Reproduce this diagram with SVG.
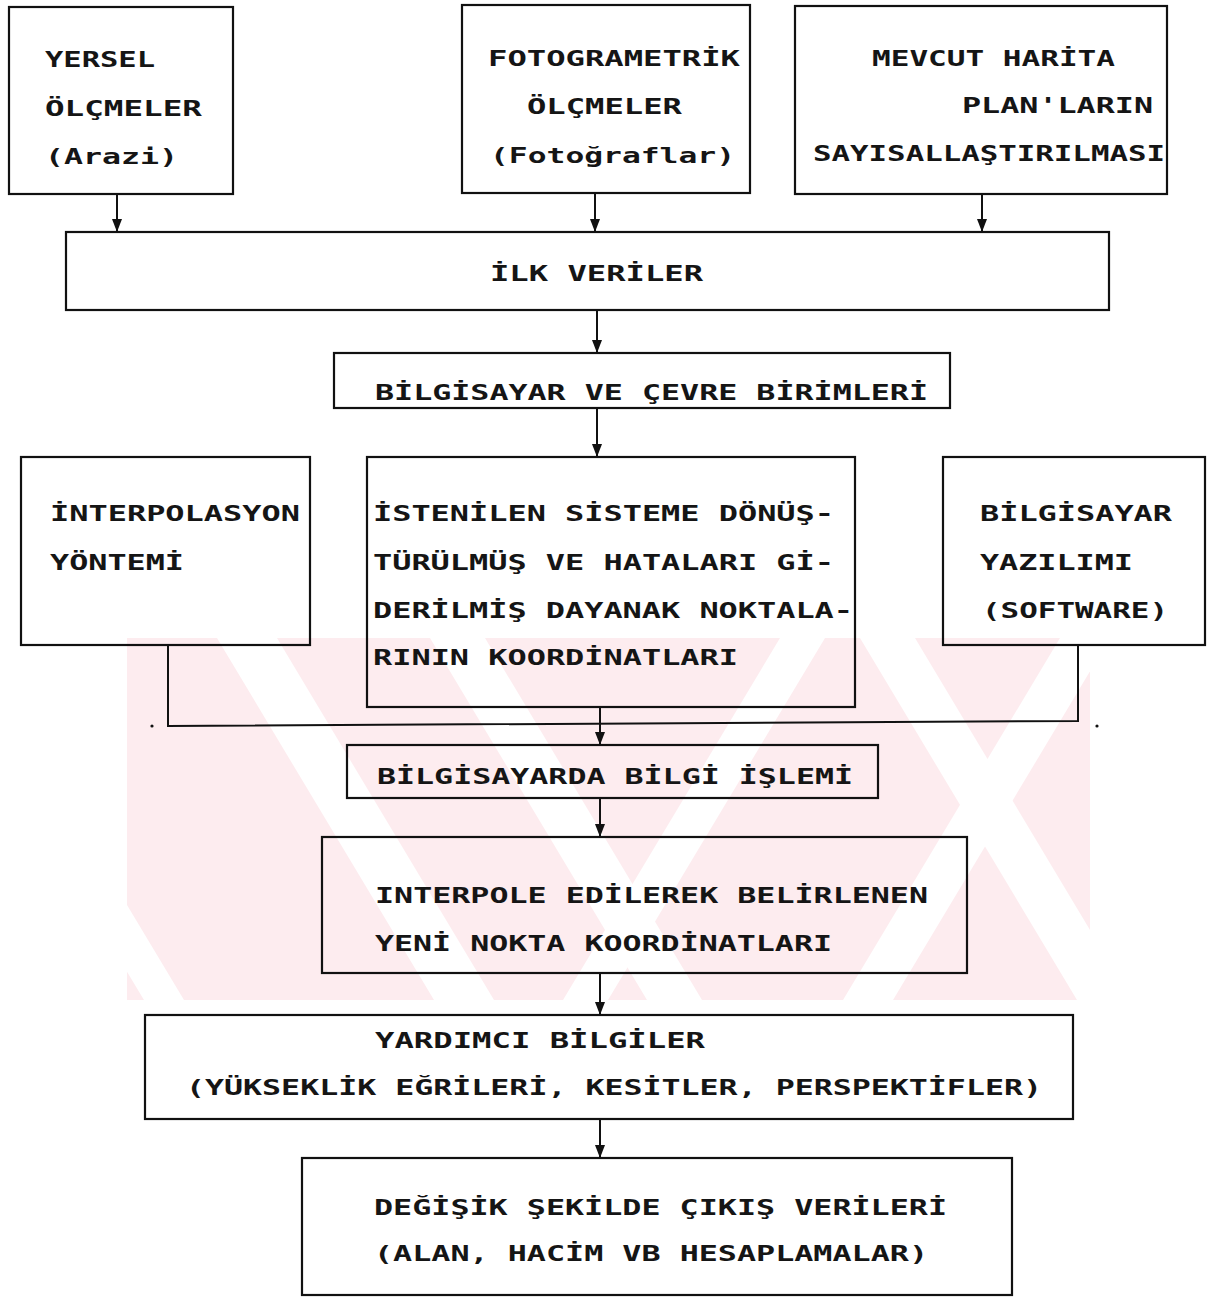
<svg xmlns="http://www.w3.org/2000/svg" width="1211" height="1298" viewBox="0 0 1211 1298">
<style>
.bg{fill:#ffffff}
.box{fill:none;stroke:#111;stroke-width:2.2}
.con{fill:none;stroke:#111;stroke-width:2}
.t{font-family:"DejaVu Sans Mono","Liberation Mono",monospace;font-size:21px;font-weight:bold;fill:#151515}
.wm{fill:#fdecef}
.gap{fill:#ffffff}
</style>
<defs>
<marker id="ah" viewBox="0 0 13 10" refX="13" refY="5" markerWidth="13" markerHeight="10" markerUnits="userSpaceOnUse" orient="auto">
<path d="M0,0 L13,5 L0,10 z" fill="#111"/>
</marker>
<clipPath id="wmclip"><rect x="127" y="638" width="963" height="362"/></clipPath>
</defs>
<rect class="bg" x="0" y="0" width="1211" height="1298"/>
<g id="watermark" clip-path="url(#wmclip)">
<rect class="wm" x="127" y="638" width="963" height="362"/>
<polygon class="gap" points="217,638 277,638 494,1000 434,1000"/>
<polygon class="gap" points="430,638 485,638 702,1000 647,1000"/>
<polygon class="gap" points="860,638 915,638 1132,1000 1077,1000"/>
<polygon class="gap" points="0,760 40,760 184,1000 144,1000"/>
<polygon class="gap" points="1060,638 1110,638 893,1000 843,1000"/>
<polygon class="gap" points="780,638 825,638 608,1000 563,1000"/>
<polygon class="gap" points="1200,820 1250,820 1142,1000 1092,1000"/>
</g>
<g id="connectors">
<path class="con" d="M117,194 V232" marker-end="url(#ah)"/>
<path class="con" d="M595,193 V232" marker-end="url(#ah)"/>
<path class="con" d="M982,194 V232" marker-end="url(#ah)"/>
<path class="con" d="M597,310 V353" marker-end="url(#ah)"/>
<path class="con" d="M597,408 V457" marker-end="url(#ah)"/>
<path class="con" d="M168,645 V726 L1078,721 V645"/>
<path class="con" d="M600,707 V745" marker-end="url(#ah)"/>
<path class="con" d="M600,798 V837" marker-end="url(#ah)"/>
<path class="con" d="M600,973 V1015" marker-end="url(#ah)"/>
<path class="con" d="M600,1119 V1158" marker-end="url(#ah)"/>
<circle cx="152" cy="726" r="1.6" fill="#111"/>
<circle cx="1097" cy="726" r="1.6" fill="#111"/>
</g>
<g id="n1">
<rect class="box" x="9" y="7" width="224" height="187"/>
<text class="t" x="45" y="67" textLength="110" lengthAdjust="spacingAndGlyphs">YERSEL</text>
<text class="t" x="45" y="116" textLength="157" lengthAdjust="spacingAndGlyphs">ÖLÇMELER</text>
<text class="t" x="45" y="164" textLength="133" lengthAdjust="spacingAndGlyphs">(Arazi)</text>
</g>
<g id="n2">
<rect class="box" x="462" y="5" width="288" height="188"/>
<text class="t" x="488" y="66" textLength="252" lengthAdjust="spacingAndGlyphs">FOTOGRAMETRİK</text>
<text class="t" x="527" y="114" textLength="155" lengthAdjust="spacingAndGlyphs">ÖLÇMELER</text>
<text class="t" x="490" y="163" textLength="245" lengthAdjust="spacingAndGlyphs">(Fotoğraflar)</text>
</g>
<g id="n3">
<rect class="box" x="795" y="6" width="372" height="188"/>
<text class="t" x="872" y="66" textLength="243" lengthAdjust="spacingAndGlyphs">MEVCUT HARİTA</text>
<text class="t" x="962" y="113" textLength="191" lengthAdjust="spacingAndGlyphs">PLAN'LARIN</text>
<text class="t" x="813" y="161" textLength="352" lengthAdjust="spacingAndGlyphs">SAYISALLAŞTIRILMASI</text>
</g>
<g id="n4">
<rect class="box" x="66" y="232" width="1043" height="78"/>
<text class="t" x="490" y="281" textLength="213" lengthAdjust="spacingAndGlyphs">İLK VERİLER</text>
</g>
<g id="n5">
<rect class="box" x="334" y="353" width="616" height="55"/>
<text class="t" x="375" y="400" textLength="553" lengthAdjust="spacingAndGlyphs">BİLGİSAYAR VE ÇEVRE BİRİMLERİ</text>
</g>
<g id="n6">
<rect class="box" x="21" y="457" width="289" height="188"/>
<text class="t" x="50" y="521" textLength="250" lengthAdjust="spacingAndGlyphs">İNTERPOLASYON</text>
<text class="t" x="50" y="570" textLength="134" lengthAdjust="spacingAndGlyphs">YÖNTEMİ</text>
</g>
<g id="n7">
<rect class="box" x="367" y="457" width="488" height="250"/>
<text class="t" x="373" y="521" textLength="461" lengthAdjust="spacingAndGlyphs">İSTENİLEN SİSTEME DÖNÜŞ-</text>
<text class="t" x="373" y="570" textLength="461" lengthAdjust="spacingAndGlyphs">TÜRÜLMÜŞ VE HATALARI Gİ-</text>
<text class="t" x="373" y="618" textLength="480" lengthAdjust="spacingAndGlyphs">DERİLMİŞ DAYANAK NOKTALA-</text>
<text class="t" x="373" y="665" textLength="365" lengthAdjust="spacingAndGlyphs">RININ KOORDİNATLARI</text>
</g>
<g id="n8">
<rect class="box" x="943" y="457" width="262" height="188"/>
<text class="t" x="980" y="521" textLength="192" lengthAdjust="spacingAndGlyphs">BİLGİSAYAR</text>
<text class="t" x="980" y="570" textLength="153" lengthAdjust="spacingAndGlyphs">YAZILIMI</text>
<text class="t" x="982" y="618" textLength="186" lengthAdjust="spacingAndGlyphs">(SOFTWARE)</text>
</g>
<g id="n9">
<rect class="box" x="347" y="745" width="531" height="53"/>
<text class="t" x="377" y="784" textLength="476" lengthAdjust="spacingAndGlyphs">BİLGİSAYARDA BİLGİ İŞLEMİ</text>
</g>
<g id="n10">
<rect class="box" x="322" y="837" width="645" height="136"/>
<text class="t" x="375" y="903" textLength="553" lengthAdjust="spacingAndGlyphs">INTERPOLE EDİLEREK BELİRLENEN</text>
<text class="t" x="375" y="951" textLength="457" lengthAdjust="spacingAndGlyphs">YENİ NOKTA KOORDİNATLARI</text>
</g>
<g id="n11">
<rect class="box" x="145" y="1015" width="928" height="104"/>
<text class="t" x="375" y="1048" textLength="330" lengthAdjust="spacingAndGlyphs">YARDIMCI BİLGİLER</text>
<text class="t" x="186" y="1095" textLength="856" lengthAdjust="spacingAndGlyphs">(YÜKSEKLİK EĞRİLERİ, KESİTLER, PERSPEKTİFLER)</text>
</g>
<g id="n12">
<rect class="box" x="302" y="1158" width="710" height="137"/>
<text class="t" x="374" y="1215" textLength="573" lengthAdjust="spacingAndGlyphs">DEĞİŞİK ŞEKİLDE ÇIKIŞ VERİLERİ</text>
<text class="t" x="374" y="1261" textLength="554" lengthAdjust="spacingAndGlyphs">(ALAN, HACİM VB HESAPLAMALAR)</text>
</g>
</svg>
